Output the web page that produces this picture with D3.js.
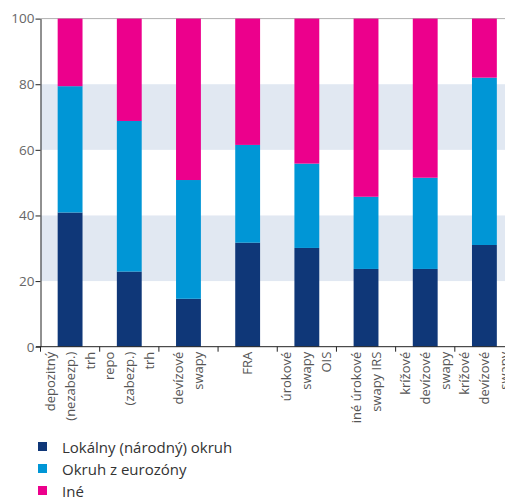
<!DOCTYPE html>
<html lang="sk">
<head>
  <meta charset="UTF-8">
  <title>Stacked bars</title>
  <script src="https://d3js.org/d3.v7.min.js"></script>
  <style>
    body { margin: 0; background: #fff; }
    svg { display: block; font-family: "Open Sans", "Noto Sans", sans-serif; }
  </style>
</head>
<body>
<script>
  // categories, each as the lines of its rotated label
  const categories = ["depo", "repo", "fxswap", "fra", "ois", "irs", "ccs1", "ccs2"];
  const catLines = [
    ["depozitný", "(nezabezp.)", "trh"],
    ["repo", "(zabezp.)", "trh"],
    ["devízové", "swapy"],
    ["FRA"],
    ["úrokové", "swapy", "OIS"],
    ["iné úrokové", "swapy IRS"],
    ["krížové", "devízové", "swapy"],
    ["krížové", "devízové", "swapy"]
  ];

  // series values (percent)
  const seriesNames = ["Lokálny (národný) okruh", "Okruh z eurozóny", "Iné"];
  const lokalny = [40.9, 22.9, 14.6, 31.7, 30.1, 23.7, 23.7, 31.0];
  const eurozona = [38.5, 45.9, 36.2, 29.8, 25.7, 22.0, 27.8, 51.0];
  const ine = [20.6, 31.2, 49.2, 38.5, 44.2, 54.3, 48.5, 18.0];
  const colors = ["#0f3778", "#0096d6", "#ec008c"];

  const yTicks = [0, 20, 40, 60, 80, 100];
  const shadedBands = [[20, 40], [60, 80]];

  const width = 505, height = 504;
  const svg = d3.select("body").append("svg")
    .attr("width", width)
    .attr("height", height);

  const x = d3.scaleBand()
    .domain(categories)
    .range([40.5, 514])
    .paddingInner(0.58)
    .paddingOuter(0.29);

  const y = d3.scaleLinear()
    .domain([0, 100])
    .range([346.7, 18.6]);

  const step = x.step();
  const bandStart = c => x(c) - step * 0.29;

  // shaded background bands
  svg.append("g").selectAll("rect")
    .data(shadedBands)
    .join("rect")
    .attr("x", 40.5)
    .attr("y", d => y(d[1]))
    .attr("width", width - 40.5)
    .attr("height", d => y(d[0]) - y(d[1]))
    .attr("fill", "#e1e8f2");

  // top border
  svg.append("line")
    .attr("x1", 40.5).attr("x2", width)
    .attr("y1", y(100)).attr("y2", y(100))
    .attr("stroke", "#b0b0b0");

  // stacked bars
  const rows = categories.map((c, i) => ({ cat: c, s0: lokalny[i], s1: eurozona[i], s2: ine[i] }));
  const stack = d3.stack().keys(["s0", "s1", "s2"])(rows);

  svg.append("g").selectAll("g")
    .data(stack)
    .join("g")
    .attr("fill", (d, i) => colors[i])
    .selectAll("rect")
    .data(d => d)
    .join("rect")
    .attr("x", d => x(d.data.cat))
    .attr("y", d => y(Math.min(d[1], 100)))
    .attr("width", x.bandwidth())
    .attr("height", d => y(d[0]) - y(Math.min(d[1], 100)));

  // y axis
  const yAxis = svg.append("g")
    .attr("transform", "translate(40.5,0)")
    .call(d3.axisLeft(y).tickValues(yTicks).tickSize(5).tickSizeOuter(0));
  yAxis.select(".domain").attr("stroke", "#222");
  yAxis.selectAll(".tick line").attr("stroke", "#222");
  yAxis.selectAll(".tick text")
    .attr("x", -6)
    .attr("fill", "#666")
    .style("font-size", "13.5px")
    .style("font-family", "'Open Sans', sans-serif");

  // x axis line and ticks at band boundaries
  svg.append("line")
    .attr("x1", 36).attr("x2", width)
    .attr("y1", y(0)).attr("y2", y(0))
    .attr("stroke", "#222");

  svg.append("g").selectAll("line")
    .data(categories)
    .join("line")
    .attr("x1", d => bandStart(d) + step)
    .attr("x2", d => bandStart(d) + step)
    .attr("y1", y(0))
    .attr("y2", y(0) + 5)
    .attr("stroke", "#222");

  svg.append("line")
    .attr("x1", 40.5).attr("x2", 40.5)
    .attr("y1", y(0)).attr("y2", y(0) + 5)
    .attr("stroke", "#222");

  // rotated multi-line category labels
  const lineGap = 20;
  const labelG = svg.append("g");
  categories.forEach((c, i) => {
    const lines = catLines[i];
    const cx = x(c) + x.bandwidth() / 2;
    lines.forEach((t, j) => {
      const lx = cx + (j - (lines.length - 1) / 2) * lineGap;
      labelG.append("text")
        .attr("transform", "translate(" + lx + "," + (y(0) + 5) + ") rotate(-90)")
        .attr("text-anchor", "end")
        .attr("dy", "0.35em")
        .attr("fill", "#555")
        .style("font-size", "13px")
        .text(t);
    });
  });

  // legend
  const legend = svg.append("g").attr("transform", "translate(38,440)");
  const item = legend.selectAll("g")
    .data(seriesNames)
    .join("g")
    .attr("transform", (d, i) => "translate(0," + i * 22 + ")");
  item.append("rect")
    .attr("width", 9).attr("height", 9)
    .attr("y", 2)
    .attr("fill", (d, i) => colors[i]);
  item.append("text")
    .attr("x", 24)
    .attr("y", 13)
    .attr("fill", "#333")
    .style("font-size", "15px")
    .text(d => d);
</script>
</body>
</html>
